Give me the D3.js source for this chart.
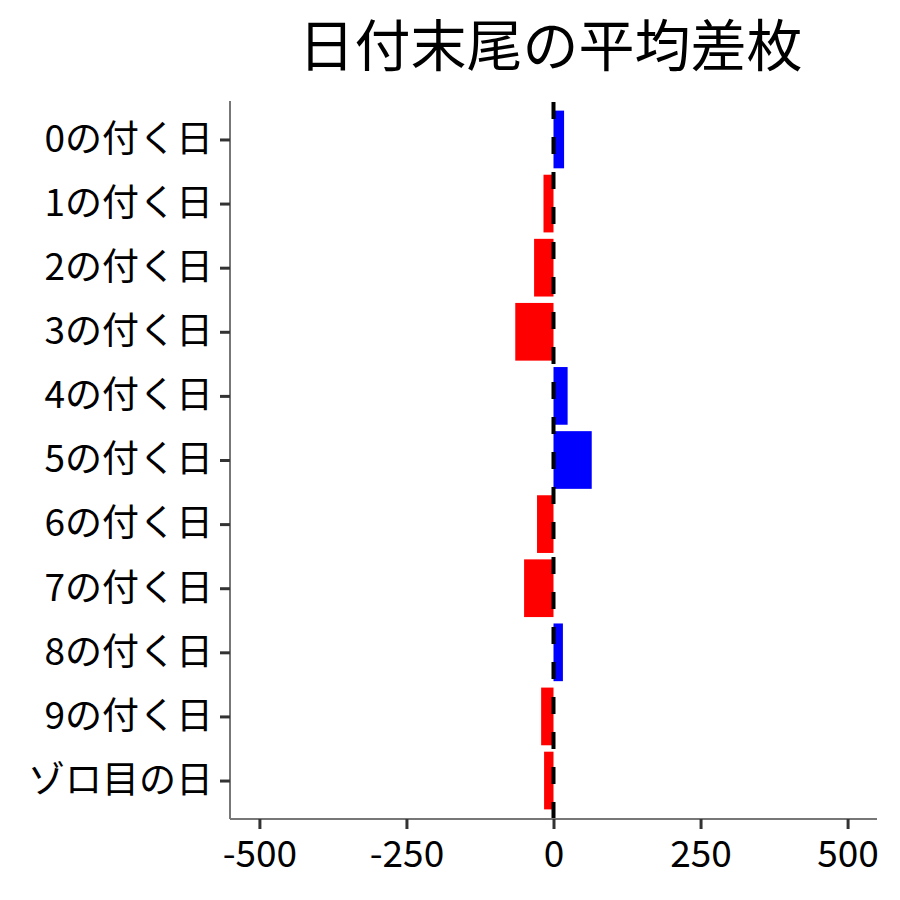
<!DOCTYPE html>
<html>
<head>
<meta charset="utf-8">
<script src="https://cdn.jsdelivr.net/npm/d3@7"></script>
<style>
  body { margin: 0; background: #fff; }
  text { font-family: "Noto Sans CJK JP", "Noto Sans", sans-serif; }
</style>
</head>
<body>
<svg id="chart" width="900" height="900"></svg>
<script>
// 日付末尾ごとの平均差枚
const categories = ["0の付く日", "1の付く日", "2の付く日", "3の付く日", "4の付く日",
    "5の付く日", "6の付く日", "7の付く日", "8の付く日", "9の付く日", "ゾロ目の日"];
const values = [18, -17, -33, -65, 24, 65, -28, -50, 16, -21, -16];
const xTicks = [-500, -250, 0, 250, 500];
const title = "日付末尾の平均差枚";

var svg = d3.select("#chart");

var plotLeft = 230, plotRight = 877, plotTop = 101, plotBottom = 819;

var x = d3.scaleLinear()
    .domain([-550, 550])
    .range([plotLeft, plotRight]);

// ggplot style discrete expansion: 0.6 of a step on each side
var step = (plotBottom - plotTop) / (categories.length - 1 + 1.2);
var y = d3.scalePoint()
    .domain(categories)
    .range([plotTop + 0.6 * step, plotBottom - 0.6 * step]);

var barH = step * 0.9;

svg.append("text")
    .attr("x", (plotLeft + plotRight) / 2 - 3)
    .attr("y", 66)
    .attr("text-anchor", "middle")
    .style("font-size", "56px")
    .style("fill", "#000")
    .text(title);

svg.selectAll("rect.bar")
    .data(values)
    .enter()
    .append("rect")
    .attr("class", "bar")
    .attr("x", function (d) { return x(Math.min(0, d)); })
    .attr("width", function (d) { return Math.abs(x(d) - x(0)); })
    .attr("y", function (d, i) { return y(categories[i]) - barH / 2; })
    .attr("height", barH)
    .attr("fill", function (d) { return d >= 0 ? "#0000FF" : "#FF0000"; });

// zero reference line, drawn bottom to top
svg.append("line")
    .attr("x1", x(0))
    .attr("x2", x(0))
    .attr("y1", plotBottom)
    .attr("y2", plotTop)
    .attr("stroke", "#000")
    .attr("stroke-width", 4)
    .attr("stroke-dasharray", "17,18");

// axes
var xAxis = svg.append("g")
    .attr("transform", "translate(0," + plotBottom + ")")
    .call(d3.axisBottom(x).tickValues(xTicks).tickSize(10).tickPadding(12)
        .tickFormat(function (d) { return String(d); }));

var yAxis = svg.append("g")
    .attr("transform", "translate(" + plotLeft + ",0)")
    .call(d3.axisLeft(y).tickSize(10).tickPadding(7));

[xAxis, yAxis].forEach(function (ax) {
    ax.attr("font-family", null).attr("font-size", null);
    ax.select(".domain")
        .attr("stroke", "#777")
        .attr("stroke-width", 2);
    ax.selectAll(".tick line")
        .attr("stroke", "#333")
        .attr("stroke-width", 3);
    ax.selectAll(".tick text")
        .style("font-size", "37px")
        .attr("fill", "#000");
});

// no outer ticks on the domain path
xAxis.select(".domain").attr("d", "M" + plotLeft + ",0H" + plotRight);
yAxis.select(".domain").attr("d", "M0," + plotTop + "V" + plotBottom);
</script>
</body>
</html>
